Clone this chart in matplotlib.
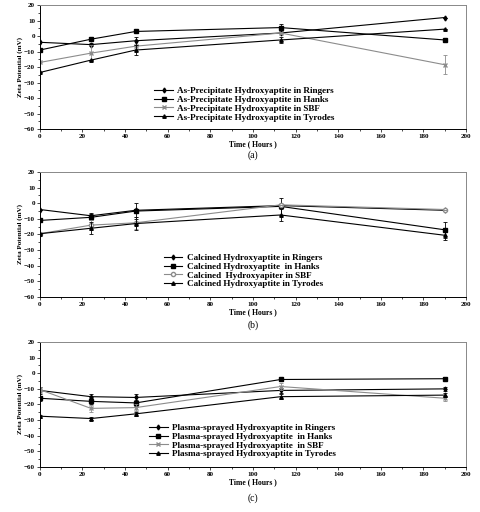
import matplotlib
matplotlib.use("Agg")
import matplotlib.pyplot as plt
from matplotlib.ticker import MultipleLocator

plt.rcParams['font.family'] = ['Liberation Serif', 'DejaVu Serif']

# sampling times (hours)
hours = [0, 24, 45, 113, 190]
media = ['Ringers', 'Hanks', 'SBF', 'Tyrodes']

# (a) as-precipitate
a_ringers = [-4, -5.5, -3, 2, 12]
a_hanks = [-9, -2, 3, 5.5, -2.5]
a_sbf = [-17, -11, -6.5, 2, -18.5]
a_tyrodes = [-23.5, -15.5, -9, -2.5, 4.5]
a_err_ringers = [0, 1, 2.5, 0, 0]
a_err_hanks = [0, 0, 0, 2.5, 0]
a_err_sbf = [0, 5, 0, 0, 6]
a_err_tyrodes = [0, 0, 3.5, 2, 0]

# (b) calcined
b_ringers = [-4, -8, -4.5, -1.5, -4.5]
b_hanks = [-11, -9, -5, -2, -17]
b_sbf = [-19.5, -14, -12.5, -1, -4]
b_tyrodes = [-19.5, -16, -13, -7.5, -20.5]
b_err_ringers = [0, 2, 0, 0, 0]
b_err_hanks = [0, 2, 5, 5.5, 5]
b_err_sbf = [0, 3, 4, 0, 0]
b_err_tyrodes = [0, 4, 4, 4, 3]

# (c) plasma-sprayed
c_ringers = [-11, -15, -15.5, -11, -10]
c_hanks = [-16, -18, -19, -4, -3.5]
c_sbf = [-10.5, -22.5, -22, -8.5, -16]
c_tyrodes = [-27.5, -29, -26, -15, -14]
c_err_ringers = [2, 2, 2, 1.5, 1.5]
c_err_hanks = [1.5, 2, 2, 1, 1]
c_err_sbf = [2, 2, 2, 2, 1.5]
c_err_tyrodes = [1, 1, 1.5, 1.5, 1.5]

labels_a = ['As-Precipitate Hydroxyaptite in Ringers',
            'As-Precipitate Hydroxyaptite in Hanks',
            'As-Precipitate Hydroxyaptite in SBF',
            'As-Precipitate Hydroxyaptite in Tyrodes']
labels_b = ['Calcined Hydroxyaptite in Ringers',
            'Calcined Hydroxyaptite  in Hanks',
            'Calcined  Hydroxyapiter in SBF',
            'Calcined Hydroxyaptite in Tyrodes']
labels_c = ['Plasma-sprayed Hydroxyaptite in Ringers',
            'Plasma-sprayed Hydroxyaptite  in Hanks',
            'Plasma-sprayed Hydroxyaptite  in SBF',
            'Plasma-sprayed Hydroxyaptite in Tyrodes']

panels = [
    ([a_ringers, a_hanks, a_sbf, a_tyrodes],
     [a_err_ringers, a_err_hanks, a_err_sbf, a_err_tyrodes], labels_a, '(a)', 'x'),
    ([b_ringers, b_hanks, b_sbf, b_tyrodes],
     [b_err_ringers, b_err_hanks, b_err_sbf, b_err_tyrodes], labels_b, '(b)', 'o'),
    ([c_ringers, c_hanks, c_sbf, c_tyrodes],
     [c_err_ringers, c_err_hanks, c_err_sbf, c_err_tyrodes], labels_c, '(c)', 'x'),
]

# axes boxes in figure fraction: left, bottom, width, height
boxes = [[0.083, 0.748, 0.888, 0.242],
         [0.083, 0.420, 0.888, 0.244],
         [0.083, 0.088, 0.888, 0.244]]
caption_y = [0.697, 0.365, 0.027]
legend_anchor = [(0.258, 0.38), (0.28, 0.385), (0.246, 0.385)]

fig = plt.figure(figsize=(4.8, 5.12), dpi=100)

for i, (series, errs, labels, cap, sbf_marker) in enumerate(panels):
    ax = fig.add_axes(boxes[i])
    styles = [dict(marker='d', color='black', ms=2.5),
              dict(marker='s', color='black', ms=2.5),
              dict(marker=sbf_marker, color='#8c8c8c', ms=3, mfc='white'),
              dict(marker='^', color='black', ms=2.5)]
    for vals, err, lab, st in zip(series, errs, labels, styles):
        ax.plot(hours, vals, lw=0.8, label=lab, **st)
        ax.errorbar(hours, vals, yerr=err, fmt='none', ecolor=st['color'],
                    elinewidth=0.6, capsize=1.5, capthick=0.6)
    ax.set_xlim(0, 200)
    ax.set_ylim(-60, 20)
    ax.xaxis.set_major_locator(MultipleLocator(20))
    ax.xaxis.set_minor_locator(MultipleLocator(10))
    ax.yaxis.set_major_locator(MultipleLocator(10))
    ax.yaxis.set_minor_locator(MultipleLocator(5))
    ax.tick_params(which='both', direction='out', labelsize=5, width=0.5, pad=1.5)
    ax.tick_params(which='major', length=2)
    ax.tick_params(which='minor', length=1.2)
    for t in ax.get_xticklabels() + ax.get_yticklabels():
        t.set_fontweight('bold')
    for side in ['top', 'right']:
        ax.spines[side].set_color('#888888')
    for sp in ax.spines.values():
        sp.set_linewidth(0.7)
    ax.set_xlabel('Time ( Hours )', fontsize=5.5, fontweight='bold', labelpad=1)
    ax.set_ylabel('Zeta Potential (mV)', fontsize=5, fontweight='bold', labelpad=1)
    ax.legend(loc='upper left', bbox_to_anchor=legend_anchor[i], frameon=False,
              prop={'weight': 'bold', 'size': 6.6}, handlelength=2.0,
              labelspacing=0.05, borderpad=0, handletextpad=0.5)
    fig.text(0.527, caption_y[i], cap, ha='center', va='center', fontsize=7)

fig.savefig('out.png', dpi=100)
